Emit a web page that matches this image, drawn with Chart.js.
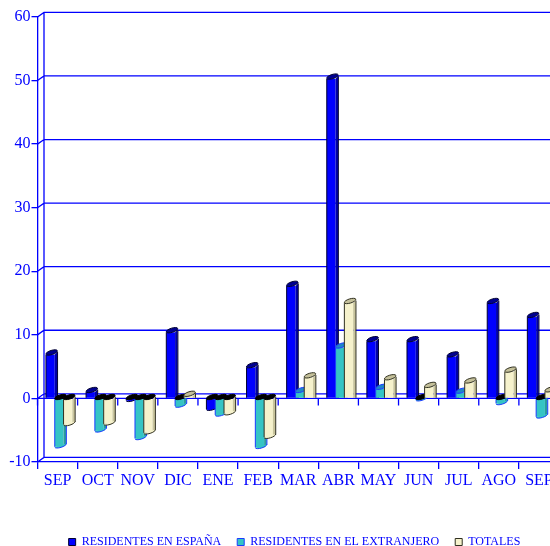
<!DOCTYPE html>
<html>
<head>
<meta charset="utf-8">
<style>
    html, body { margin: 0; padding: 0; width: 550px; height: 546px; overflow: hidden; background: #fff; }
    canvas { display: block; }
</style>
<script src="https://cdn.jsdelivr.net/npm/chart.js@4"></script>
</head>
<body>
<canvas id="chart" width="589" height="558"></canvas>
<script>
const categories = ["SEP", "OCT", "NOV", "DIC", "ENE", "FEB", "MAR", "ABR", "MAY", "JUN", "JUL", "AGO", "SEP"]
const espana = [6.9, 1.0, -0.3, 10.4, -1.7, 4.9, 17.7, 50.3, 9.0, 9.0, 6.6, 15.0, 12.8]
const extranjero = [-7.6, -5.1, -6.3, -1.2, -2.6, -7.7, 1.0, 8.0, 1.5, -0.2, 0.9, -0.8, -2.9]
const totales = [-4.1, -4.0, -5.4, 0.4, -2.4, -6.1, 3.3, 15.0, 3.0, 1.8, 2.5, 4.2, 1.1]

const BLUE = "#0000ff"
const FONT = "'Liberation Serif', serif"
const depthX = 6.5
const depthY = 4.6

// look of each series: shaded side, cap and outline
const looks = [
    { side: "#0000a8", cap: "#000090", edge: "#000030", under: "#000000" },
    { side: "#2a9c9c", cap: "#1f86c8", edge: "#1a3cff", under: "#000000" },
    { side: "#c8c49c", cap: "#c4c09a", edge: "#303020", under: "#000000" }
]

function capShape(ctx, x, y, w) {
    ctx.beginPath()
    ctx.ellipse(x + 1.3, y - 2.1, w / 2 + 1.6, 2.1, -0.3, 0, Math.PI * 2)
}

function shadeBars(chart, meta, index) {
    const ctx = chart.ctx
    const look = looks[index]
    const fill = chart.data.datasets[index].backgroundColor
    meta.data.forEach(bar => {
        let w = bar.width
        let left = bar.x - w / 2
        let right = bar.x + w / 2
        let top = Math.min(bar.y, bar.base)
        let bottom = Math.max(bar.y, bar.base)
        let negative = bar.y > bar.base

        // right side of the bar
        ctx.fillStyle = look.side
        ctx.beginPath()
        ctx.moveTo(right, top)
        ctx.lineTo(right + 2.6, top - 2.5)
        ctx.lineTo(right + 2.6, negative ? bottom - 2.5 : bottom)
        ctx.lineTo(right, bottom)
        ctx.closePath()
        ctx.fill()

        ctx.strokeStyle = look.edge
        ctx.lineWidth = 1
        ctx.beginPath()
        ctx.moveTo(left, top)
        ctx.lineTo(left, bottom)
        ctx.moveTo(right + 2.8, top - 2.5)
        ctx.lineTo(right + 2.8, negative ? bottom - 2.5 : bottom)
        ctx.stroke()

        // rounded lower end of the negative bars
        if (negative) {
            ctx.fillStyle = fill
            ctx.beginPath()
            ctx.ellipse(bar.x + 1.3, bottom - 1.4, w / 2 + 1.6, 2.1, -0.3, 0, Math.PI)
            ctx.fill()
            ctx.stroke()
        }

        capShape(ctx, bar.x, top, w)
        ctx.fillStyle = negative ? look.under : look.cap
        ctx.fill()
        ctx.strokeStyle = negative ? "#000000" : look.edge
        ctx.stroke()
    })
}

const walls = {
    id: "walls",
    // legend sits further right than the plot's centre
    afterLayout(chart) {
        chart.legend.left += 15
        chart.legend.right += 15
    },
    beforeDatasetsDraw(chart) {
        const ctx = chart.ctx
        const { x, y } = chart.scales
        const area = chart.chartArea
        ctx.save()
        ctx.strokeStyle = BLUE
        ctx.lineWidth = 1.3
        ctx.beginPath()
        y.ticks.forEach(t => {
            let py = y.getPixelForValue(t.value)
            ctx.moveTo(area.left, py)
            ctx.lineTo(area.left + depthX, py - depthY)
            ctx.lineTo(chart.width, py - depthY)
        })
        ctx.moveTo(area.left + depthX, y.getPixelForValue(60) - depthY)
        ctx.lineTo(area.left + depthX, y.getPixelForValue(-10) - depthY)

        let zero = y.getPixelForValue(0)
        ctx.moveTo(area.left, zero)
        ctx.lineTo(area.right, zero)
        let step = x.width / categories.length
        for (let i = 0; i <= categories.length; i++) {
            ctx.moveTo(area.left + i * step, zero)
            ctx.lineTo(area.left + i * step, zero + 7)
        }
        ctx.stroke()
        ctx.restore()
    },
    // the bars are drawn below in series order, so the later series sit in front
    beforeDatasetDraw() {
        return false
    },
    afterDatasetsDraw(chart) {
        const ctx = chart.ctx
        ctx.save()
        ctx.translate(1.6, 0)
        chart.data.datasets.forEach((ds, i) => {
            let meta = chart.getDatasetMeta(i)
            meta.controller.draw()
            shadeBars(chart, meta, i)
        })
        ctx.restore()
    }
}

new Chart(document.getElementById("chart"), {
    type: "bar",
    plugins: [walls],
    data: {
        labels: categories,
        datasets: [
            { label: "RESIDENTES EN ESPAÑA", data: espana, backgroundColor: "#0000ff", borderColor: "#000030" },
            { label: "RESIDENTES EN EL EXTRANJERO", data: extranjero, backgroundColor: "#35c4c4", borderColor: "#1a3cff" },
            { label: "TOTALES", data: totales, backgroundColor: "#f6f2cc", borderColor: "#303020" }
        ]
    },
    options: {
        responsive: false,
        animation: false,
        devicePixelRatio: 1,
        layout: { padding: { top: 17, right: 30, left: 0, bottom: 0 } },
        datasets: { bar: { categoryPercentage: 0.658, barPercentage: 1, borderWidth: 0 } },
        scales: {
            x: {
                afterFit(scale) { scale.height = 58 },
                grid: { offset: true, drawOnChartArea: false, color: BLUE, tickLength: 7, lineWidth: 1.3 },
                border: { color: BLUE, width: 1.3 },
                ticks: {
                    color: BLUE,
                    autoSkip: false,
                    maxRotation: 0,
                    padding: 2,
                    font: { family: FONT, size: 16 }
                }
            },
            y: {
                min: -10,
                max: 60,
                afterFit(scale) { scale.width = 37.5 },
                grid: { drawOnChartArea: false, color: BLUE, tickLength: 6, lineWidth: 1.3 },
                border: { color: BLUE, width: 1.3 },
                ticks: {
                    stepSize: 10,
                    color: BLUE,
                    padding: 1,
                    font: { family: FONT, size: 16 }
                }
            }
        },
        plugins: {
            tooltip: { enabled: false },
            title: { display: false },
            legend: {
                position: "bottom",
                labels: {
                    color: BLUE,
                    boxWidth: 7,
                    boxHeight: 7,
                    padding: 16,
                    font: { family: FONT, size: 12 },
                    generateLabels(chart) {
                        return Chart.defaults.plugins.legend.labels.generateLabels(chart).map((item, i) => {
                            item.lineWidth = 1
                            item.strokeStyle = chart.data.datasets[i].borderColor
                            return item
                        })
                    }
                }
            }
        }
    }
})
</script>
</body>
</html>
